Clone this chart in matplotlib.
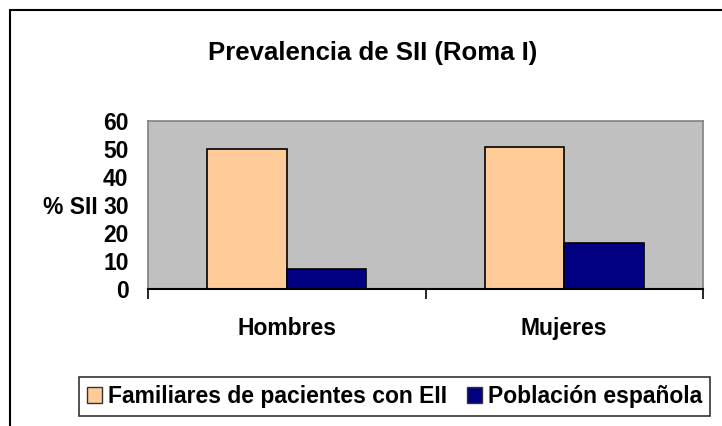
import matplotlib
matplotlib.use("Agg")
import matplotlib.pyplot as plt
from matplotlib.patches import Rectangle
import numpy as np

plt.rcParams['font.family'] = ['Liberation Sans', 'DejaVu Sans']
plt.rcParams['font.weight'] = 'bold'

# Data
categories = ["Hombres", "Mujeres"]
series_names = ["Familiares de pacientes con EII", "Población española"]
familiares = [50.0, 50.7]
poblacion = [7.3, 16.5]
y_ticks = [0, 10, 20, 30, 40, 50, 60]

colors = ["#FFCC99", "#000080"]
fs = 16.5

fig = plt.figure(figsize=(7.22, 4.26), dpi=100)
ax = fig.add_axes([148 / 722, 1 - 289 / 426, 555 / 722, 168 / 426])
ax.set_facecolor("#C0C0C0")

x = np.arange(len(categories)) + 0.5
w = 1 / 3.5
ax.bar(x - w / 2, familiares, w, color=colors[0], edgecolor="black", linewidth=1.2,
       label=series_names[0])
ax.bar(x + w / 2, poblacion, w, color=colors[1], edgecolor="black", linewidth=1.2,
       label=series_names[1])

ax.set_xlim(0, len(categories))
ax.set_ylim(0, 60)
ax.set_yticks(y_ticks)
ax.set_yticklabels([str(t) for t in y_ticks], fontsize=fs, fontweight="bold")
ax.tick_params(axis="y", length=0, pad=14)

ax.set_xticks(np.arange(len(categories) + 1))
ax.set_xticklabels([])
ax.tick_params(axis="x", which="major", direction="out", length=7, width=1.2)
ax.set_xticks(x, minor=True)
ax.set_xticklabels(categories, minor=True, fontsize=fs, fontweight="bold")
ax.tick_params(axis="x", which="minor", length=0, pad=20)

for side in ["left", "top", "right"]:
    ax.spines[side].set_color("#808080")
    ax.spines[side].set_linewidth(1.2)
ax.spines["bottom"].set_color("black")
ax.spines["bottom"].set_linewidth(1.5)

fig.text(70 / 722, 1 - 207 / 426, "% SII", ha="center", va="center",
         fontsize=fs, fontweight="bold")
fig.text(373 / 722, 1 - 53 / 426, "Prevalencia de SII (Roma I)", ha="center",
         va="center", fontsize=18.5, fontweight="bold")

# outer chart border (right and bottom edges fall outside the image)
fig.patches.append(Rectangle((10 / 722, -0.5), 1.5, 1.5 - 10 / 426,
                             transform=fig.transFigure, fill=False,
                             edgecolor="black", linewidth=1.5))

leg = fig.legend(loc="lower left", bbox_to_anchor=(79 / 722, 1 - 416 / 426),
                 ncol=2, frameon=True, fancybox=False, edgecolor="black",
                 prop={"size": fs, "weight": "bold"}, handlelength=0.65,
                 handleheight=0.65, handletextpad=0.25, columnspacing=0.9,
                 borderpad=0.35, borderaxespad=0)
leg.get_frame().set_linewidth(1.2)
for h in leg.legend_handles:
    h.set_edgecolor("#333333")
    h.set_linewidth(1.0)

fig.savefig("out.png", dpi=100)
